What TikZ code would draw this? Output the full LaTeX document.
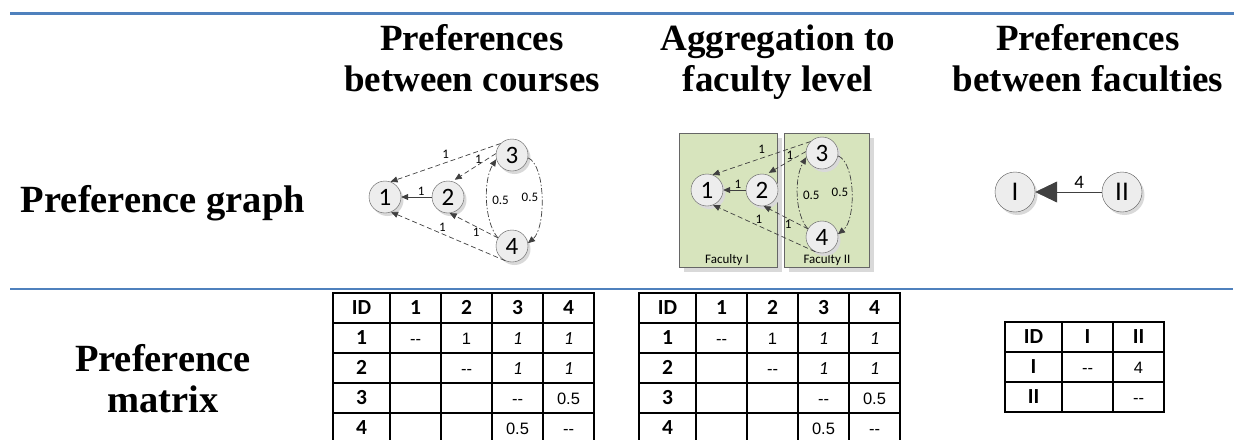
\documentclass[tikz,border=0pt]{standalone}
\usepackage{fontspec}
\setmainfont{Liberation Serif}
\newfontfamily\calibri{Carlito}
\newfontfamily\arialfont{Liberation Sans}
\usetikzlibrary{arrows.meta, positioning, matrix, shadows}

\definecolor{rulebl}{HTML}{4F81BD}
\definecolor{facgreen}{HTML}{D7E4BD}
\definecolor{edgegray}{HTML}{404040}

\newcommand{\hdfont}{\fontsize{37}{41}\selectfont\bfseries}
\newcommand{\rowfont}{\fontsize{38.5}{41}\selectfont\bfseries}
\newcommand{\hdrfont}{\calibri\fontsize{21.5}{21.5}\selectfont\bfseries}

\begin{document}
\begin{tikzpicture}[x=1pt, y=-1pt, >={Triangle[length=7pt, width=6pt]},
  hd/.style={font=\hdfont, align=center, inner sep=0pt},
  course/.style={circle, draw=black!65, fill=black!7, minimum size=32pt, inner sep=0pt,
    font=\calibri\fontsize{25}{25}\selectfont,
    drop shadow={shadow xshift=2.5pt, shadow yshift=-3pt, fill=black!15, opacity=1}},
  faculty/.style={course, minimum size=40pt, font=\calibri\fontsize{27}{27}\selectfont},
  facbox/.style={draw=black!60, fill=facgreen,
    drop shadow={shadow xshift=5pt, shadow yshift=-5pt, fill=black!15, opacity=1}},
  pref/.style={->, draw=edgegray, line width=0.7pt},
  dashpref/.style={pref, dash pattern=on 5pt off 3pt},
  dotpref/.style={pref, dash pattern=on 6pt off 2pt on 1.5pt off 2pt},
  wlabel/.style={font=\calibri\fontsize{13}{13}\selectfont, inner sep=1pt},
  tbl/.style={matrix of nodes, nodes in empty cells, anchor=north west,
    inner sep=0pt, outer sep=0pt, column sep=-2pt, row sep=-2pt,
    nodes={draw, line width=2pt, anchor=center, outer sep=0pt, inner sep=0pt,
      minimum height=30pt, minimum width=51pt, text height=12pt, text depth=0pt,
      font=\arialfont\fontsize{16.5}{16.5}\selectfont},
    column 1/.style={nodes={minimum width=57pt, font=\hdrfont, text height=13.5pt}},
    row 1/.style={nodes={font=\hdrfont, text height=13.5pt}}},
  it/.style={font=\calibri\fontsize{18.5}{18.5}\selectfont\itshape}]
  \useasboundingbox (0,0) rectangle (1234,439);
  \clip (0,0) rectangle (1234,439);

  % rules
  \draw[rulebl, line width=3pt] (10,13) -- (1234,13);
  \draw[rulebl, line width=1.2pt] (10,289) -- (1233,289);

  % column and row headings
  \node[hd, anchor=north] (hcourse) at (472,24.5) {Preferences\\between courses};
  \node[hd, anchor=north] (haggr) at (778,24.5) {Aggregation to\\faculty level};
  \node[hd, anchor=north] (hfac) at (1088,24.5) {Preferences\\between faculties};
  \node[hd, font=\rowfont, anchor=base] (rgraph) at (163,212) {Preference graph};
  \node[hd, font=\rowfont, anchor=north] (rmatrix) at (163,344) {Preference\\matrix};

  % graph between courses
  \node[course] (c1) at (385,197) {1};
  \node[course] (c2) at (448,197) {2};
  \node[course] (c3) at (512,155) {3};
  \node[course] (c4) at (512,246) {4};
  \draw[pref] (c2) -- node[wlabel, above, pos=.35] {1} (c1);
  \draw[dashpref] (c3.135) -- node[wlabel, above=3pt, pos=.5] {1} (c1.70);
  \draw[dashpref, shorten >=3pt] (c3.175) -- node[wlabel, above, pos=.4] {1} (c2.75);
  \draw[dashpref] (c4.245) -- node[wlabel, above=1pt, pos=.55] {1} (c1.-68);
  \draw[dashpref] (c4.150) -- node[wlabel, below, pos=.45] {1} (c2.-84);
  \draw[dotpref] (c4.150) .. controls (484,222) and (483,180) .. node[wlabel, right=4pt, pos=.5] {0.5} (c3.195);
  \draw[dotpref] (c3.-10) .. controls (546,165) and (546,228) .. node[wlabel, left=2pt, pos=.5] {0.5} (c4.10);

  % aggregation to faculties
  \node[facbox, minimum width=98pt, minimum height=134pt] (boxI) at (728,200) {};
  \node[facbox, minimum width=85pt, minimum height=134pt] (boxII) at (826.5,200) {};
  \node[wlabel, anchor=base] (lboxI) at (727,263) {Faculty I};
  \node[wlabel, anchor=base] (lboxII) at (827,263) {Faculty II};
  \node[course] (f1) at (707,190) {1};
  \node[course] (f2) at (762,190) {2};
  \node[course] (f3) at (822,153) {3};
  \node[course] (f4) at (822,237) {4};
  \draw[pref] (f2) -- node[wlabel, above, pos=.35] {1} (f1);
  \draw[dashpref] (f3.135) -- node[wlabel, above=3pt, pos=.5] {1} (f1.70);
  \draw[dashpref, shorten >=3pt] (f3.175) -- node[wlabel, above, pos=.4] {1} (f2.75);
  \draw[dashpref] (f4.245) -- node[wlabel, above=1pt, pos=.55] {1} (f1.-68);
  \draw[dashpref] (f4.150) -- node[wlabel, below, pos=.45] {1} (f2.-84);
  \draw[dotpref] (f4.150) .. controls (795,215) and (794,178) .. node[wlabel, right=4pt, pos=.5] {0.5} (f3.195);
  \draw[dotpref] (f3.-10) .. controls (856,163) and (856,220) .. node[wlabel, left=2pt, pos=.5] {0.5} (f4.10);

  % graph between faculties
  \node[faculty] (fI) at (1015,192) {I};
  \node[faculty] (fII) at (1122,192) {II};
  \draw[pref, -{Triangle[length=22pt, width=21pt]}] (fII) -- node[wlabel, above=2pt, pos=.34, font=\calibri\fontsize{19}{19}\selectfont] {4} (fI);

  % preference matrices
  \matrix (mcourse) [tbl] at (332,292) {
    ID & 1 & 2 & 3 & 4 \\
    1 & -{}- & 1 & |[it]| 1 & |[it]| 1 \\
    2 & & -{}- & |[it]| 1 & |[it]| 1 \\
    3 & & & -{}- & 0.5 \\
    4 & & & 0.5 & -{}- \\
  };
  \matrix (maggr) [tbl] at (638,292) {
    ID & 1 & 2 & 3 & 4 \\
    1 & -{}- & 1 & |[it]| 1 & |[it]| 1 \\
    2 & & -{}- & |[it]| 1 & |[it]| 1 \\
    3 & & & -{}- & 0.5 \\
    4 & & & 0.5 & -{}- \\
  };
  \matrix (mfac) [tbl] at (1004,321) {
    ID & I & II \\
    I & -{}- & 4 \\
    II & & -{}- \\
  };
\end{tikzpicture}
\end{document}
